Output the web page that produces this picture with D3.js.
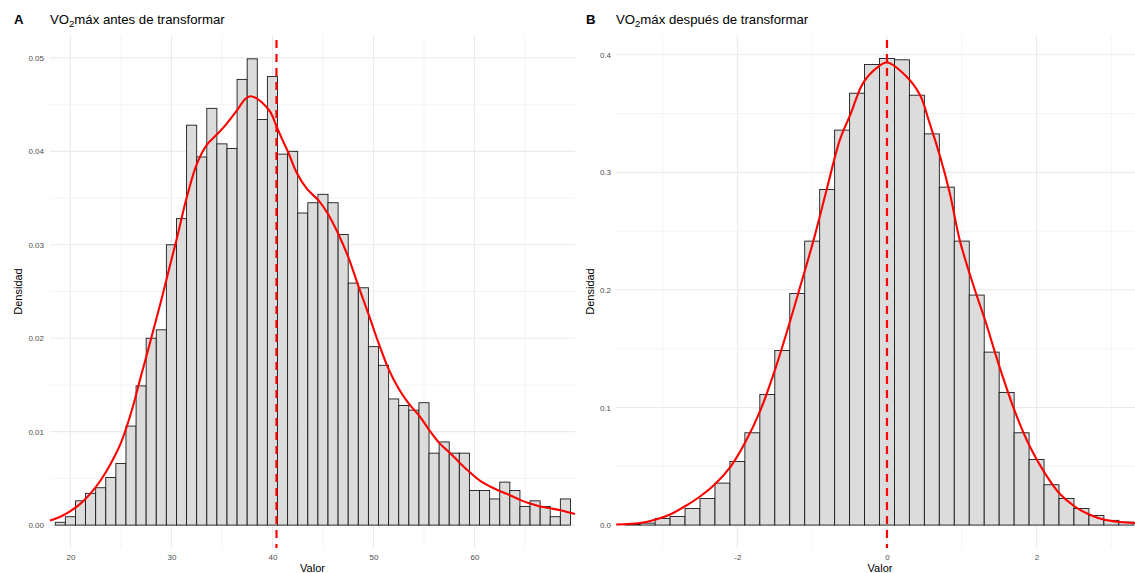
<!DOCTYPE html>
<html>
<head>
<meta charset="utf-8">
<script src="https://cdn.jsdelivr.net/npm/d3@7"></script>
<style>
  body { margin: 0; background: #fff; }
  svg { display: block; }
  text { font-family: "Liberation Sans", Arial, Helvetica, sans-serif; }
</style>
</head>
<body>
<svg id="chart" width="1135" height="573"></svg>
<script>
// ---- Panel A: VO2máx before transforming (binwidth 1) ----
const binCentersA = [19, 20, 21, 22, 23, 24, 25, 26, 27, 28, 29, 30, 31, 32, 33, 34, 35, 36, 37, 38,
  39, 40, 41, 42, 43, 44, 45, 46, 47, 48, 49, 50, 51, 52, 53, 54, 55, 56, 57, 58,
  59, 60, 61, 62, 63, 64, 65, 66, 67, 68, 69];
const densityA = [0.0003, 0.0009, 0.0026, 0.0034, 0.0040, 0.0051, 0.0066, 0.0106, 0.0149, 0.0200,
  0.0209, 0.0300, 0.0328, 0.0428, 0.0394, 0.0446, 0.0408, 0.0403, 0.0477, 0.0499,
  0.0434, 0.0480, 0.0397, 0.0400, 0.0334, 0.0345, 0.0354, 0.0345, 0.0311, 0.0259,
  0.0254, 0.0191, 0.0171, 0.0135, 0.0128, 0.0123, 0.0131, 0.0077, 0.0089, 0.0077,
  0.0077, 0.0037, 0.0037, 0.0028, 0.0046, 0.0037, 0.0020, 0.0026, 0.0020, 0.0009, 0.0028];
const kdeXA = [17.98, 19.0, 20.0, 21.0, 22.0, 23.0, 24.0, 25.0, 26.0, 27.0, 28.0, 29.0, 30.0, 30.5,
  31.5, 32.5, 33.5, 34.5, 35.5, 36.5, 37.3, 37.8, 38.4, 39.0, 39.8, 40.4, 41.0, 41.6,
  42.4, 43.4, 44.6, 45.5, 46.5, 47.5, 48.5, 49.5, 50.5, 51.5, 52.5, 53.5, 54.6, 55.5,
  56.5, 57.6, 58.6, 59.6, 60.6, 61.6, 62.6, 63.5, 64.5, 65.5, 66.5, 67.5, 68.5, 69.95];
const kdeYA = [0.0005, 0.0009, 0.0015, 0.0023, 0.0034, 0.0048, 0.0066, 0.0088, 0.0120, 0.0160,
  0.0200, 0.0241, 0.0284, 0.0305, 0.0350, 0.0386, 0.0407, 0.0418, 0.0430, 0.0444,
  0.0456, 0.0459, 0.0457, 0.0452, 0.0442, 0.0427, 0.0412, 0.0398, 0.0377, 0.0360,
  0.0347, 0.0333, 0.0312, 0.0287, 0.0256, 0.0226, 0.0195, 0.0167, 0.0146, 0.0130,
  0.0116, 0.0102, 0.0088, 0.0077, 0.0066, 0.0056, 0.0047, 0.0041, 0.0036, 0.0032,
  0.0027, 0.0023, 0.0020, 0.0018, 0.0016, 0.0012];
const meanA = 40.4;
const xTicksA = [20, 30, 40, 50, 60];
const xMinorA = [25, 35, 45, 55, 65];
const yTicksA = [0, 0.01, 0.02, 0.03, 0.04, 0.05];
const yMinorA = [0.005, 0.015, 0.025, 0.035, 0.045];

// ---- Panel B: VO2máx after transforming (binwidth 0.2) ----
const binCentersB = [-3.4, -3.2, -3.0, -2.8, -2.6, -2.4, -2.2, -2.0, -1.8, -1.6, -1.4, -1.2,
  -1.0, -0.8, -0.6, -0.4, -0.2, 0.0, 0.2, 0.4, 0.6, 0.8, 1.0,
  1.2, 1.4, 1.6, 1.8, 2.0, 2.2, 2.4, 2.6, 2.8, 3.0, 3.2];
const densityB = [0.0005, 0.0017, 0.0056, 0.0073, 0.0141, 0.0226, 0.0357, 0.0541, 0.0785, 0.1111, 0.1485, 0.1970,
  0.2415, 0.2854, 0.3359, 0.3673, 0.3917, 0.3968, 0.3957, 0.3656, 0.3327, 0.2874, 0.2415,
  0.1956, 0.1471, 0.1128, 0.0785, 0.0558, 0.0343, 0.0226, 0.0141, 0.0082, 0.0040, 0.0025];
const kdeXB = [-3.62, -3.30, -3.10, -2.90, -2.70, -2.50, -2.30, -2.09, -1.90, -1.69, -1.49, -1.29,
  -1.16, -0.985, -0.806, -0.63, -0.49, -0.32, -0.14, 0.0, 0.26, 0.44, 0.57, 0.71, 0.84,
  0.976, 1.16, 1.31, 1.51, 1.71, 1.91, 2.11, 2.31, 2.51, 2.71, 2.91, 3.11, 3.32];
const kdeYB = [0.0005, 0.0017, 0.0045, 0.0090, 0.0160, 0.0243, 0.0348, 0.0498, 0.0697, 0.0980, 0.1335, 0.1746,
  0.2029, 0.2415, 0.2854, 0.3276, 0.3490, 0.3759, 0.3886, 0.3934, 0.3815, 0.3659, 0.3418, 0.3134, 0.2823,
  0.2415, 0.2029, 0.1746, 0.1335, 0.0966, 0.0668, 0.0442, 0.0266, 0.0158, 0.0088, 0.0045, 0.0026, 0.0017];
const meanB = 0.0;
const xTicksB = [-2, 0, 2];
const xMinorB = [-3, -1, 1, 3];
const yTicksB = [0, 0.1, 0.2, 0.3, 0.4];
const yMinorB = [0.05, 0.15, 0.25, 0.35];

const svg = d3.select("#chart");

function drawPanel(cfg) {
  const x = d3.scaleLinear().domain(cfg.xDomain).range([cfg.left, cfg.right]);
  const y = d3.scaleLinear().domain(cfg.yDomain).range([cfg.bottom, cfg.top]);
  const g = svg.append("g");

  // grid
  const grid = g.append("g");
  grid.selectAll(".vmin").data(cfg.xMinor).join("line")
    .attr("x1", d => x(d)).attr("x2", d => x(d))
    .attr("y1", cfg.top).attr("y2", cfg.bottom)
    .attr("stroke", "#ebebeb").attr("stroke-width", 0.55);
  grid.selectAll(".hmin").data(cfg.yMinor).join("line")
    .attr("x1", cfg.left).attr("x2", cfg.right)
    .attr("y1", d => y(d)).attr("y2", d => y(d))
    .attr("stroke", "#ebebeb").attr("stroke-width", 0.55);
  grid.selectAll(".vmaj").data(cfg.xTicks).join("line")
    .attr("x1", d => x(d)).attr("x2", d => x(d))
    .attr("y1", cfg.top).attr("y2", cfg.bottom)
    .attr("stroke", "#ebebeb").attr("stroke-width", 1.1);
  grid.selectAll(".hmaj").data(cfg.yTicks).join("line")
    .attr("x1", cfg.left).attr("x2", cfg.right)
    .attr("y1", d => y(d)).attr("y2", d => y(d))
    .attr("stroke", "#ebebeb").attr("stroke-width", 1.1);

  // histogram bars
  const hw = cfg.binWidth / 2;
  g.append("g").selectAll("rect").data(cfg.centers.map((c, i) => ({ c, v: cfg.density[i] })))
    .join("rect")
    .attr("x", d => x(d.c - hw))
    .attr("width", d => x(d.c + hw) - x(d.c - hw))
    .attr("y", d => y(d.v))
    .attr("height", d => y(0) - y(d.v))
    .attr("fill", "#dcdcdc")
    .attr("stroke", "#1a1a1a")
    .attr("stroke-width", 0.9);

  // density curve
  const line = d3.line().x(d => x(d[0])).y(d => y(d[1])).curve(d3.curveCatmullRom.alpha(0.5));
  g.append("path")
    .datum(cfg.kdeX.map((v, i) => [v, cfg.kdeY[i]]))
    .attr("d", line)
    .attr("fill", "none")
    .attr("stroke", "#ff0000")
    .attr("stroke-width", 2.1)
    .attr("stroke-linejoin", "round");

  // mean line
  g.append("line")
    .attr("x1", x(cfg.mean)).attr("x2", x(cfg.mean))
    .attr("y1", cfg.top).attr("y2", cfg.bottom)
    .attr("stroke", "#ff0000")
    .attr("stroke-width", 2.2)
    .attr("stroke-dasharray", "8,6")
    .attr("stroke-dashoffset", -5);

  // axes (labels only)
  const ax = g.append("g").attr("transform", `translate(0,${cfg.bottom})`)
    .call(d3.axisBottom(x).tickValues(cfg.xTicks).tickSize(0).tickPadding(6).tickFormat(d3.format("d")));
  const ay = g.append("g").attr("transform", `translate(${cfg.left},0)`)
    .call(d3.axisLeft(y).tickValues(cfg.yTicks).tickSize(0).tickPadding(cfg.yPad).tickFormat(d3.format(cfg.yFmt)));
  [ax, ay].forEach(a => {
    a.select(".domain").remove();
    a.selectAll("text").attr("fill", "#4d4d4d").attr("font-size", "8px")
      .attr("font-family", "'Liberation Sans', Arial, sans-serif");
  });
  ax.selectAll("text").text(d => d < 0 ? "-" + Math.abs(d) : d);

  // axis titles
  g.append("text")
    .attr("x", cfg.xlabX).attr("y", 572)
    .attr("text-anchor", "middle").attr("font-size", "11px").attr("fill", "#000")
    .text("Valor");
  g.append("text")
    .attr("transform", `translate(${cfg.ylabX},${(cfg.top + cfg.bottom) / 2}) rotate(-90)`)
    .attr("text-anchor", "middle").attr("font-size", "11px").attr("fill", "#000")
    .text("Densidad");

  // tag and title
  g.append("text")
    .attr("x", cfg.tagX).attr("y", 24)
    .attr("font-size", "13.2px").attr("font-weight", "bold").attr("fill", "#000")
    .text(cfg.tag);
  const t = g.append("text")
    .attr("x", cfg.left).attr("y", 24)
    .attr("font-size", "13.2px").attr("fill", "#000");
  t.append("tspan").text("VO");
  t.append("tspan").attr("font-size", "9.5px").attr("dy", 3).text("2");
  t.append("tspan").attr("dy", -3).text(cfg.titleRest);
}

drawPanel({
  left: 50, right: 575, top: 35, bottom: 548,
  xDomain: [17.98, 69.95], yDomain: [-0.00245, 0.05245],
  centers: binCentersA, density: densityA, binWidth: 1,
  kdeX: kdeXA, kdeY: kdeYA, mean: meanA,
  xTicks: xTicksA, xMinor: xMinorA, yTicks: yTicksA, yMinor: yMinorA,
  yFmt: ".2f", yPad: 6, ylabX: 22, xlabX: 312.5,
  tag: "A", tagX: 14, titleRest: "máx antes de transformar"
});

drawPanel({
  left: 616, right: 1135, top: 35, bottom: 548,
  xDomain: [-3.623, 3.316], yDomain: [-0.0195, 0.4168],
  centers: binCentersB, density: densityB, binWidth: 0.2,
  kdeX: kdeXB, kdeY: kdeYB, mean: meanB,
  xTicks: xTicksB, xMinor: xMinorB, yTicks: yTicksB, yMinor: yMinorB,
  yFmt: ".1f", yPad: 5, ylabX: 594, xlabX: 880,
  tag: "B", tagX: 586, titleRest: "máx después de transformar"
});
</script>
</body>
</html>
